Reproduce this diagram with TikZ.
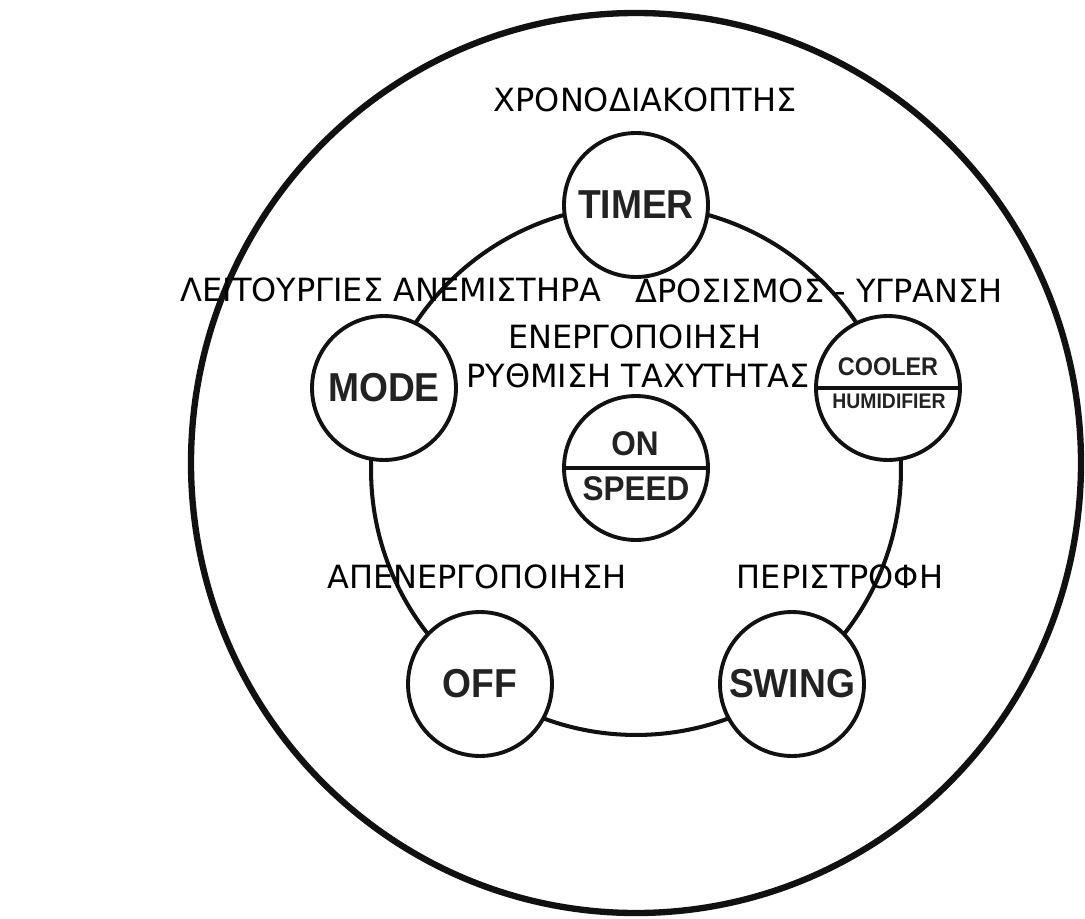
\documentclass[tikz,border=0pt]{standalone}
\usepackage{fontspec}
\usepackage{tikz}
\usetikzlibrary{positioning, calc}
\setmainfont{DejaVu Sans}
\newfontfamily\keyfont[FakeStretch=0.92]{Liberation Sans}
\definecolor{ink}{HTML}{111111}
\definecolor{keyink}{HTML}{222222}

\begin{document}
\begin{tikzpicture}[
  x=0.02cm, y=-0.02cm,
  btn/.style={circle, draw=ink, line width=2.2pt, fill=white, minimum size=2.88cm, inner sep=0pt, align=center, text=keyink, font=\keyfont\bfseries\fontsize{23}{25}\selectfont},
  lbl/.style={anchor=base, text=black, font=\fontsize{18.2}{21}\selectfont},
  ring/.style={draw=ink, line width=2.3pt},
  rim/.style={draw=ink, line width=3.6pt},
  divider/.style={draw=ink, line width=2pt},
]
\useasboundingbox (0,0) rectangle (1085,919);

% Outer rim and button ring
\coordinate (hub) at (636,470);
\draw[rim] (636,463) ellipse[x radius=445, y radius=450];
\draw[ring] (hub) circle[radius=5.3cm];

% Buttons
\node[btn] (timer) at (636,205) {TIMER};
\node[btn] (mode) at (384,388) {MODE};
\node[btn] (cooler) at (888,388) {};
\node[btn] (onspeed) at (636,468) {};
\node[btn] (off) at (480,684) {OFF};
\node[btn] (swing) at (792,684) {SWING};

% Split keys
\draw[divider] (cooler.west) -- (cooler.east);
\draw[divider] (onspeed.west) -- (onspeed.east);
\node[anchor=base, text=keyink, font=\keyfont\bfseries\fontsize{14.5}{15}\selectfont] (coolertxt) at (888,375) {COOLER};
\node[anchor=base, text=keyink, font=\keyfont\bfseries\fontsize{12}{13}\selectfont] (humidtxt) at (889,408) {HUMIDIFIER};
\node[anchor=base, text=keyink, font=\keyfont\bfseries\fontsize{19.5}{20}\selectfont] (ontxt) at (635,455) {ON};
\node[anchor=base, text=keyink, font=\keyfont\bfseries\fontsize{19.5}{20}\selectfont] (speedtxt) at (636,500) {SPEED};

% Labels
\node[lbl] (lbltimer) at (645,112) {ΧΡΟΝΟΔΙΑΚΟΠΤΗΣ};
\node[lbl] (lblmode) at (391,301) {ΛΕΙΤΟΥΡΓΙΕΣ ΑΝΕΜΙΣΤΗΡΑ};
\node[lbl] (lblcooler) at (819,302) {ΔΡΟΣΙΣΜΟΣ - ΥΓΡΑΝΣΗ};
\node[lbl] (lblon) at (635,348) {ΕΝΕΡΓΟΠΟΙΗΣΗ};
\node[lbl] (lblspeed) at (638,387) {ΡΥΘΜΙΣΗ ΤΑΧΥΤΗΤΑΣ};
\node[lbl] (lbloff) at (477,588) {ΑΠΕΝΕΡΓΟΠΟΙΗΣΗ};
\node[lbl] (lblswing) at (840,588) {ΠΕΡΙΣΤΡΟΦΗ};

\end{tikzpicture}
\end{document}
